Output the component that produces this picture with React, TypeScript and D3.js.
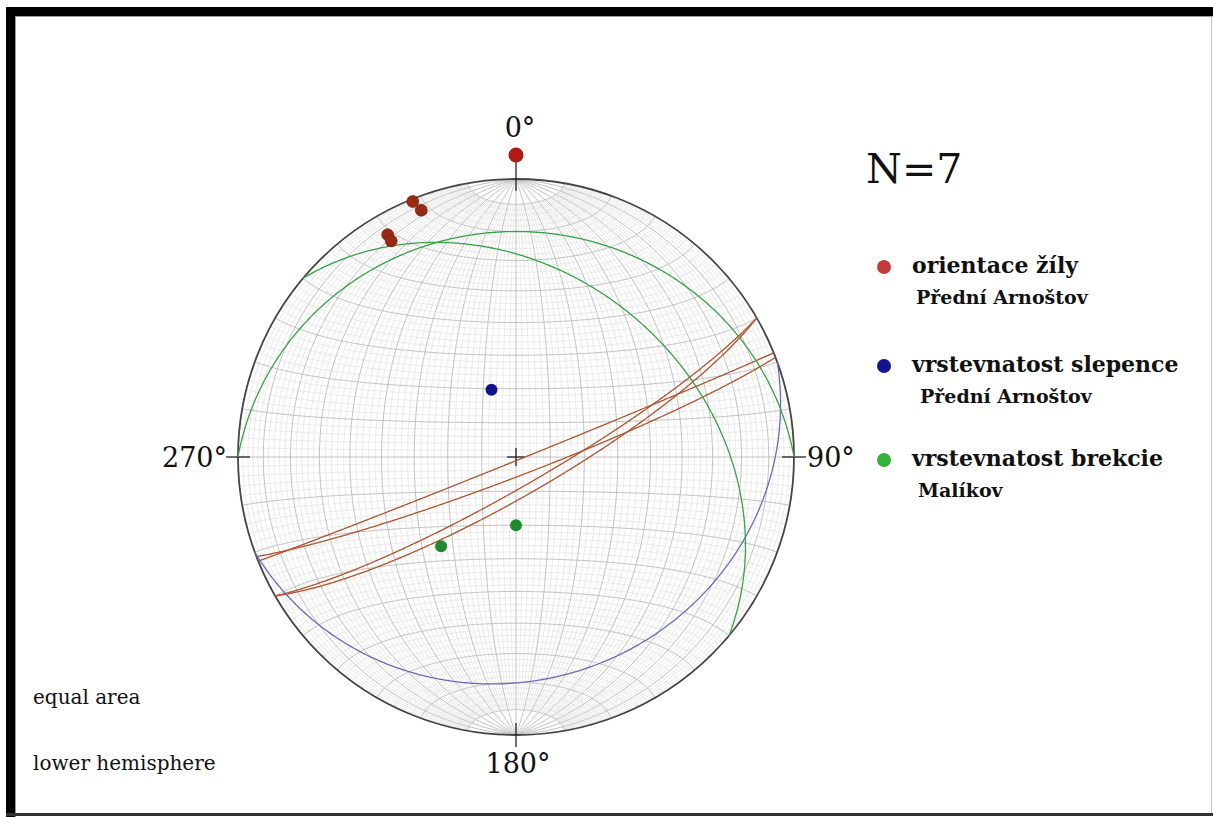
import * as d3 from 'd3'

// stereonet geometry
const CX = 516
const CY = 457
const R = 278

// measured planes: dip direction / dip, degrees
const veinDipDir = [158, 159, 150, 150]
const veinDip = [89, 84.5, 81.5, 78.8]
const slepenecDipDir = [160]
const slepenecDip = [21]
const brekcieDipDir = [0, 40]
const brekcieDip = [20, 34.5]

const azimuthLabels = ['0°', '90°', '180°', '270°']
const legendTitles = ['orientace žíly', 'vrstevnatost slepence', 'vrstevnatost brekcie']
const legendPlaces = ['Přední Arnoštov', 'Přední Arnoštov', 'Malíkov']
const noteLines = ['equal area', 'lower hemisphere']

const SETS = [
  { dipDir: veinDipDir, dip: veinDip, line: '#b0532f', dot: '#982a12', key: '#c23a3a' },
  { dipDir: slepenecDipDir, dip: slepenecDip, line: '#6b6bb8', dot: '#12128a', key: '#14148e' },
  { dipDir: brekcieDipDir, dip: brekcieDip, line: '#37a347', dot: '#1f8a2c', key: '#33b33a' },
]

const rad = Math.PI / 180
const FONT = '"DejaVu Serif", "Liberation Serif", serif'

// lower hemisphere direction (trend, plunge) -> lon/lat on a net centred on the vertical
function toGeo(trend: number, plunge: number): [number, number] {
  const t = trend * rad
  const p = plunge * rad
  const n = Math.cos(p) * Math.cos(t)
  const e = Math.cos(p) * Math.sin(t)
  const d = Math.sin(p)
  return [Math.atan2(e, d) / rad, Math.asin(n) / rad]
}

const projGrid = d3.geoAzimuthalEqualArea().rotate([0, 0]).scale(R / Math.SQRT2).translate([CX, CY]).precision(0.1)
const projClip = d3.geoAzimuthalEqualArea().rotate([0, 0]).scale(R / Math.SQRT2).translate([CX, CY]).clipAngle(90).precision(0.1)
const gridPath = d3.geoPath(projGrid)
const clipPath = d3.geoPath(projClip)

function meridian(lon: number, lat0: number, lat1: number) {
  return d3.range(lat0, lat1 + 0.001, 1).map((lat) => [lon, lat])
}
function parallel(lat: number) {
  return d3.range(-90, 90.001, 1).map((lon) => [lon, lat])
}

const fineGrid = {
  type: 'MultiLineString',
  coordinates: [
    ...d3.range(-88, 89, 2).filter((l) => l % 10 !== 0).map((l) => meridian(l, -80, 80)),
    ...d3.range(-78, 79, 2).filter((l) => l % 10 !== 0).map((l) => parallel(l)),
  ],
}
const majorGrid = {
  type: 'MultiLineString',
  coordinates: [
    ...d3.range(-80, 81, 10).map((l) => meridian(l, -90, 90)),
    ...d3.range(-80, 81, 10).map((l) => parallel(l)),
  ],
}

function greatCircle(dipDir: number, dip: number) {
  const ring = d3.geoCircle().center(toGeo(dipDir + 180, 90 - dip)).radius(90).precision(0.5)().coordinates[0]
  return clipPath({ type: 'LineString', coordinates: ring } as any) || ''
}
function polePoint(dipDir: number, dip: number) {
  return projGrid(toGeo(dipDir + 180, 90 - dip)) as [number, number]
}

export default function App() {
  const W = 1213
  const H = 817
  const tick = 12

  return (
    <>
      <style>{'body{margin:0}'}</style>
      <svg width={W} height={H} style={{ display: 'block' }}>
        <rect x={0} y={0} width={W} height={H} fill="#ffffff" />
        {/* frame */}
        <rect x={6} y={7} width={W - 6} height={9} fill="#000" />
        <rect x={6} y={7} width={9} height={H - 7} fill="#000" />
        <line x1={15} x2={W} y1={16.5} y2={16.5} stroke="#9a9a9a" strokeWidth={1} />
        <line x1={15.5} x2={15.5} y1={16} y2={H} stroke="#9a9a9a" strokeWidth={1} />
        <rect x={6} y={813} width={W - 6} height={3} fill="#333" />
        <line x1={W - 1.5} x2={W - 1.5} y1={16} y2={813} stroke="#c8c8c8" strokeWidth={1} />

        {/* net */}
        <path d={gridPath(fineGrid as any) || ''} fill="none" stroke="#e3e3e3" strokeWidth={0.7} />
        <path d={gridPath(majorGrid as any) || ''} fill="none" stroke="#bbbbbb" strokeWidth={0.9} />
        <circle cx={CX} cy={CY} r={R} fill="none" stroke="#454545" strokeWidth={1.8} />

        {[0, 90, 180, 270].map((az) => {
          const s = Math.sin(az * rad)
          const c = -Math.cos(az * rad)
          const outer = az === 0 ? 24 : tick
          return (
            <line
              key={az}
              x1={CX + s * (R - tick)}
              y1={CY + c * (R - tick)}
              x2={CX + s * (R + outer)}
              y2={CY + c * (R + outer)}
              stroke="#222"
              strokeWidth={1.3}
            />
          )
        })}
        <line x1={CX - 9} x2={CX + 9} y1={CY} y2={CY} stroke="#222" strokeWidth={1.3} />
        <line x1={CX} x2={CX} y1={CY - 9} y2={CY + 9} stroke="#222" strokeWidth={1.3} />

        {/* great circles */}
        {SETS.map((set, i) =>
          set.dipDir.map((dd, j) => (
            <path key={`gc${i}-${j}`} d={greatCircle(dd, set.dip[j])} fill="none" stroke={set.line} strokeWidth={1.3} />
          ))
        )}
        {/* poles */}
        {SETS.map((set, i) =>
          set.dipDir.map((dd, j) => {
            const [x, y] = polePoint(dd, set.dip[j])
            return <circle key={`p${i}-${j}`} cx={x} cy={y} r={6} fill={set.dot} stroke="#6a1a08" strokeOpacity={i === 0 ? 0.6 : 0} />
          })
        )}
        {/* north marker */}
        <circle cx={CX} cy={CY - R - 24} r={7.5} fill="#b01a14" />

        {/* azimuth labels */}
        <text x={CX + 4} y={137} textAnchor="middle" fontFamily={FONT} fontSize={27} fill="#111">{azimuthLabels[0]}</text>
        <text x={CX + R + 13} y={467} textAnchor="start" fontFamily={FONT} fontSize={27} fill="#111">{azimuthLabels[1]}</text>
        <text x={CX + 2} y={773} textAnchor="middle" fontFamily={FONT} fontSize={27} fill="#111">{azimuthLabels[2]}</text>
        <text x={CX - R - 11} y={467} textAnchor="end" fontFamily={FONT} fontSize={27} fill="#111">{azimuthLabels[3]}</text>

        {/* N count */}
        <text x={866} y={183} fontFamily={FONT} fontSize={41} fill="#111">{`N=${veinDip.length + slepenecDip.length + brekcieDip.length}`}</text>

        {/* legend */}
        {legendTitles.map((t, i) => {
          const y = [273, 372, 466][i]
          return (
            <g key={t}>
              <circle cx={884} cy={y - 6} r={7} fill={SETS[i].key} />
              <text x={912} y={y} fontFamily={FONT} fontSize={22} fontWeight="bold" fill="#111">{t}</text>
              <text x={[916, 920, 918][i]} y={y + 31} fontFamily={FONT} fontSize={19} fontWeight="bold" fill="#111">{legendPlaces[i]}</text>
            </g>
          )
        })}

        {noteLines.map((t, i) => (
          <text key={t} x={33} y={704 + i * 66} fontFamily={FONT} fontSize={20} fill="#111">{t}</text>
        ))}
      </svg>
    </>
  )
}
